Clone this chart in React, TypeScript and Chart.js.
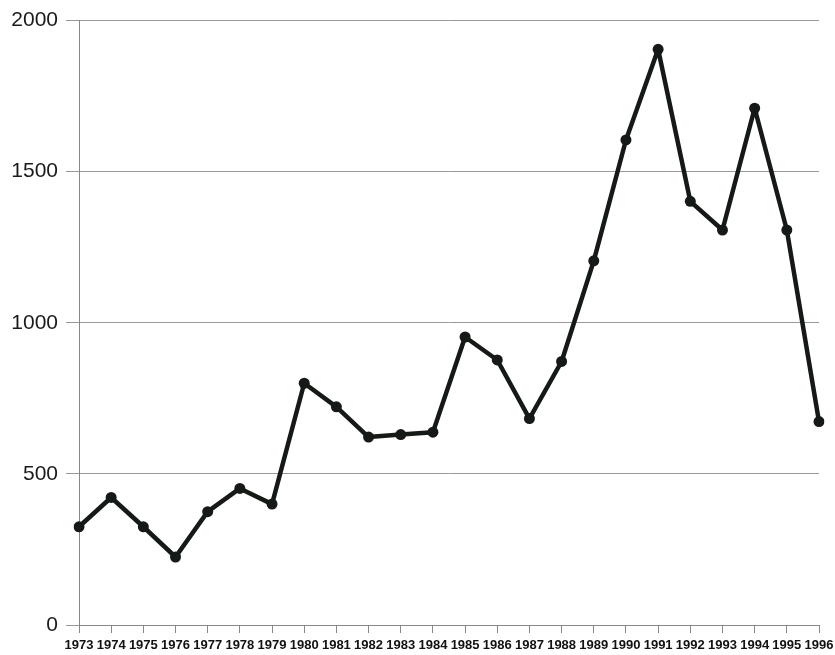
import React, { useEffect, useRef } from "react";
import { Chart, registerables } from "chart.js";

Chart.register(...registerables);

const years: string[] = [
  "1973", "1974", "1975", "1976", "1977", "1978", "1979", "1980", "1981", "1982", "1983", "1984",
  "1985", "1986", "1987", "1988", "1989", "1990", "1991", "1992", "1993", "1994", "1995", "1996",
];
const values: number[] = [
  325, 422, 325, 225, 375, 452, 400, 800, 722, 622, 630, 638,
  953, 877, 683, 872, 1205, 1605, 1905, 1402, 1307, 1710, 1307, 673,
];
const yTicks: number[] = [0, 500, 1000, 1500, 2000];

export default function App() {
  const ref = useRef<HTMLCanvasElement | null>(null);
  useEffect(() => {
    if (!ref.current) return;
    const chart = new Chart(ref.current, {
      type: "line",
      data: {
        labels: years,
        datasets: [
          {
            data: values,
            borderColor: "#161a16",
            backgroundColor: "#161a16",
            borderWidth: 4.5,
            borderJoinStyle: "round",
            borderCapStyle: "round",
            pointRadius: 5.5,
            pointBorderWidth: 0,
            pointBackgroundColor: "#161a16",
            tension: 0,
          },
        ],
      },
      options: {
        responsive: false,
        animation: false,
        devicePixelRatio: 1,
        layout: { padding: { top: 20, right: 16, left: 0, bottom: 0 } },
        plugins: { legend: { display: false }, tooltip: { enabled: false }, title: { display: false } },
        scales: {
          x: {
            type: "category",
            offset: false,
            afterFit: (s: any) => { s.height = 30; s.paddingRight = 0; s.paddingLeft = 0; },
            grid: { drawOnChartArea: false, drawTicks: true, tickLength: 8, color: "#888", lineWidth: 1 },
            border: { display: true, color: "#888", width: 1 },
            ticks: {
              autoSkip: false,
              maxRotation: 0,
              minRotation: 0,
              padding: 5,
              color: "#111",
              font: { family: "'Liberation Sans', Arial, sans-serif", size: 13, weight: "bold" },
            },
          },
          y: {
            min: 0,
            max: 2000,
            afterFit: (s: any) => { s.width = 79; },
            afterBuildTicks: (s: any) => { s.ticks = yTicks.map((v) => ({ value: v })); },
            grid: { drawOnChartArea: true, drawTicks: true, tickLength: 13, color: "#999", lineWidth: 1 },
            border: { display: true, color: "#888", width: 1 },
            ticks: {
              padding: 8,
              color: "#1a1a1a",
              callback: (v: any) => String(v),
              font: { family: "'Liberation Sans', Arial, sans-serif", size: 21 },
            },
          },
        },
      },
    });
    return () => chart.destroy();
  }, []);
  return (
    <div style={{ position: "absolute", left: 0, top: 0, width: 835, height: 655, background: "#fff" }}>
      <canvas ref={ref} width={835} height={655} style={{ display: "block", width: 835, height: 655 }} />
    </div>
  );
}
